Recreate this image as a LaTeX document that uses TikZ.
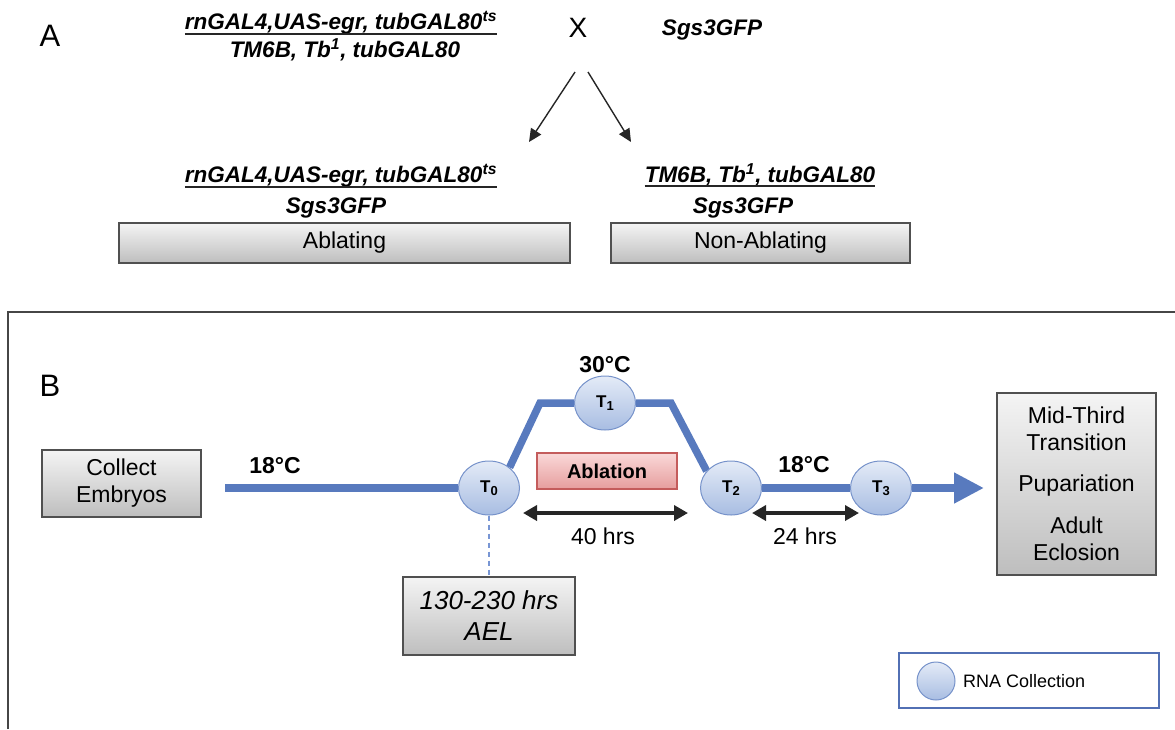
\documentclass[tikz,border=0pt]{standalone}
\usepackage{fontspec}
\setmainfont{Liberation Sans}
\usetikzlibrary{arrows.meta,backgrounds,shapes.geometric}

\newcommand\fsz[2]{\fontsize{#1}{#2}\selectfont}
\newcommand\tlab[1]{T\raisebox{-3.5pt}{\fsz{13}{15}#1}}

\definecolor{lineblue}{RGB}{88,122,190}
\definecolor{circtop}{RGB}{228,235,247}
\definecolor{circbot}{RGB}{168,189,226}
\definecolor{circedge}{RGB}{118,146,202}
\definecolor{boxtop}{RGB}{244,244,244}
\definecolor{boxbot}{RGB}{190,190,190}
\definecolor{boxedge}{RGB}{80,80,80}
\definecolor{abltop}{RGB}{250,216,216}
\definecolor{ablbot}{RGB}{230,158,158}
\definecolor{abledge}{RGB}{196,92,92}
\definecolor{legedge}{RGB}{82,112,180}
\definecolor{dashblue}{RGB}{120,150,212}
\definecolor{frameedge}{RGB}{70,70,70}

\tikzset{
  greybox/.style={draw=boxedge, line width=1.2pt, top color=boxtop, bottom color=boxbot,
    inner sep=0pt, align=center, font=\fsz{23}{27}},
  sample/.style={ellipse, draw=circedge, line width=1pt, top color=circtop, bottom color=circbot,
    minimum width=61pt, minimum height=54pt, inner sep=0pt, font=\bfseries\fsz{17}{19}},
  geno/.style={font=\bfseries\itshape\fsz{22.5}{27}, inner sep=0pt, anchor=base},
  genorule/.style={line width=1.8pt, black!85},
  panel/.style={font=\fsz{31}{36}, inner sep=0pt, anchor=base},
  temp/.style={font=\bfseries\fsz{23}{27}, inner sep=0pt, anchor=base},
  plain/.style={font=\fsz{23}{27}, inner sep=0pt},
  timeline/.style={line width=7.5pt, lineblue},
  span/.style={line width=4pt, black!85, {Triangle[length=14pt,width=15pt]}-{Triangle[length=14pt,width=15pt]}},
  cross/.style={line width=1.4pt, black!85, -{Triangle[length=13pt,width=12pt]}},
}

\begin{document}
\begin{tikzpicture}[x=1pt, y=-1pt]
\useasboundingbox (0,0) rectangle (1175,729);

% ---------- panel A: the cross ----------
\node[panel] (labA) at (50,46) {A};

\node[geno] (p1) at (341,29) {rnGAL4,UAS-egr, tubGAL80\textsuperscript{ts}};
\draw[genorule] (p1.south west) -- (p1.south east);
\node[geno] (p2) at (345,57) {TM6B, Tb\textsuperscript{1}, tubGAL80};

\node[font=\fsz{28}{32}, inner sep=0pt, anchor=base] (cx) at (578,37) {X};
\node[geno] (p3) at (712,35) {Sgs3GFP};

\coordinate (crossL) at (575,72);
\coordinate (offL) at (529,142);
\coordinate (crossR) at (588,72);
\coordinate (offR) at (631,142);
\draw[cross] (crossL) -- (offL);
\draw[cross] (crossR) -- (offR);

% offspring
\node[geno] (o1) at (341,182) {rnGAL4,UAS-egr, tubGAL80\textsuperscript{ts}};
\draw[genorule] (o1.south west) -- (o1.south east);
\node[geno] (o2) at (336,213) {Sgs3GFP};

\node[geno] (o3) at (760,182) {TM6B, Tb\textsuperscript{1}, tubGAL80};
\draw[genorule] (o3.south west) -- (o3.south east);
\node[geno] (o4) at (743,213) {Sgs3GFP};

\node[greybox, minimum width=451pt, minimum height=40pt] (abl) at (344.5,243) {Ablating};
\node[greybox, minimum width=299pt, minimum height=40pt] (nonabl) at (760.5,243) {Non-Ablating};

% ---------- panel B: the time course ----------
\coordinate (frameBL) at (8,729);
\coordinate (frameTL) at (8,312);
\coordinate (frameTR) at (1175,312);
\draw[frameedge, line width=1.5pt] (frameBL) -- (frameTL) -- (frameTR);

\node[panel] (labB) at (50,396) {B};

\node[greybox, minimum width=159pt, minimum height=67pt] (collect) at (121.5,483.5) {Collect\\Embryos};

\node[sample] (T0) at (489,488) {\tlab{0}};
\node[sample] (T1) at (605,403) {\tlab{1}};
\node[sample] (T2) at (731,488) {\tlab{2}};
\node[sample] (T3) at (881,488) {\tlab{3}};

\coordinate (start) at (225,488);
\coordinate (riseTop) at (540,403);
\coordinate (fallTop) at (671,403);
\coordinate (tip) at (984,488);

\begin{pgfonlayer}{background}
\draw[timeline] (start) -- (T0);
\draw[timeline] (T0.45) -- (riseTop) -- (T1);
\draw[timeline] (T1) -- (fallTop) -- (T2.145);
\draw[timeline] (T2) -- (T3);
\draw[timeline, -{Triangle[length=30pt,width=29pt]}] (T3) -- (tip);
\end{pgfonlayer}

\node[temp] (t18a) at (275,473) {18°C};
\node[temp] (t30) at (605,372) {30°C};
\node[temp] (t18b) at (804,472) {18°C};

\node[draw=abledge, line width=1.2pt, top color=abltop, bottom color=ablbot,
      minimum width=140pt, minimum height=36pt, inner sep=0pt,
      font=\bfseries\fsz{20}{24}] (ablation) at (607,471) {Ablation};

\coordinate (s40a) at (523,513);
\coordinate (s40b) at (688,513);
\draw[span] (s40a) -- (s40b);
\node[plain] (h40) at (603,536) {40 hrs};

\coordinate (s24a) at (752,513);
\coordinate (s24b) at (859,513);
\draw[span] (s24a) -- (s24b);
\node[plain] (h24) at (805,536) {24 hrs};

\node[greybox, minimum width=172pt, minimum height=78pt, font=\itshape\fsz{26}{31}] (ael) at (489,616) {130-230 hrs\\AEL};
\draw[dashblue, line width=1.3pt, dash pattern=on 5pt off 4pt] (T0) -- (ael);

\node[greybox, minimum width=159pt, minimum height=182pt] (stages) at (1076.5,484)
  {Mid-Third\\Transition\\[14pt]Pupariation\\[15pt]Adult\\Eclosion};

% legend
\node[draw=legedge, line width=2.5pt, minimum width=260pt, minimum height=55pt, inner sep=0pt] (legend) at (1029,680.5) {};
\node[circle, draw=circedge, line width=1pt, top color=circtop, bottom color=circbot,
      minimum size=38pt, inner sep=0pt] (legdot) at (936,681) {};
\node[font=\fsz{18}{22}, inner sep=0pt, anchor=west] (legtxt) at (963,681) {RNA Collection};
\end{tikzpicture}
\end{document}
